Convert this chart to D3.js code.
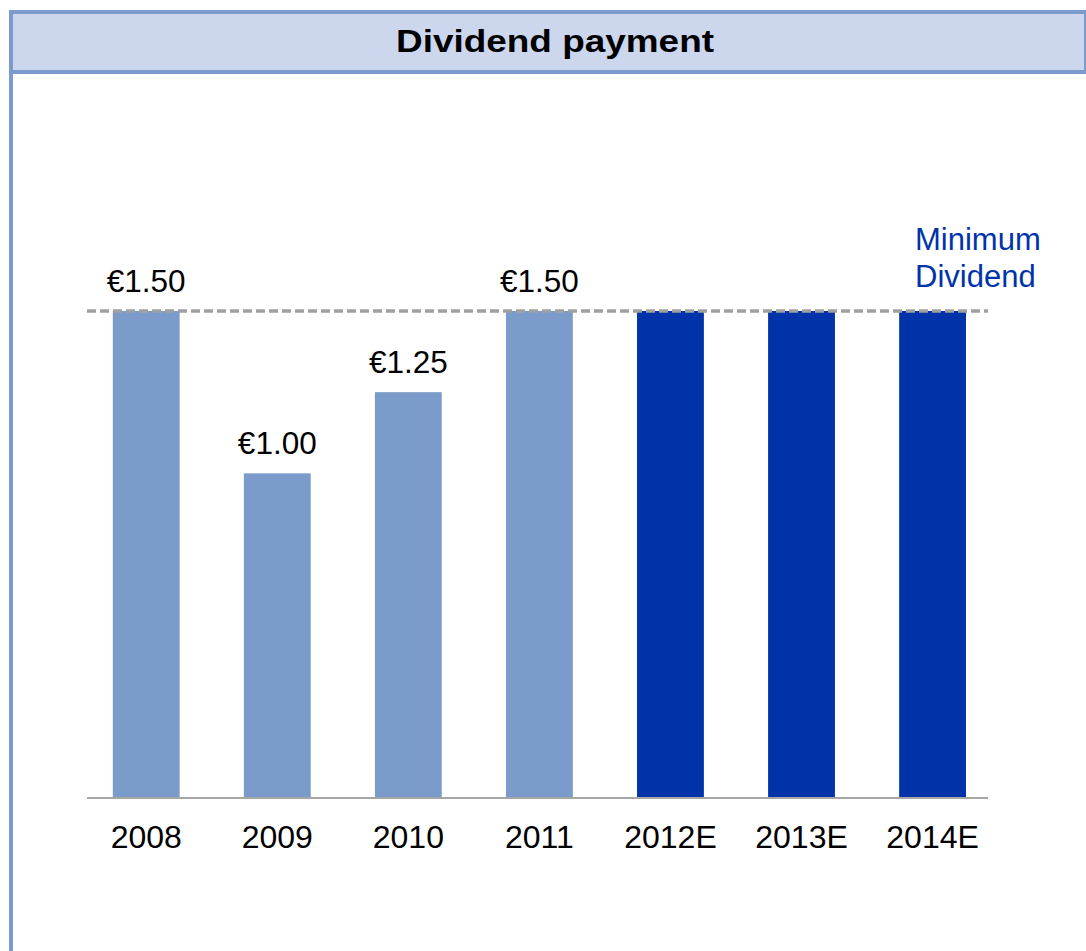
<!DOCTYPE html>
<html>
<head>
<meta charset="utf-8">
<script src="https://cdn.jsdelivr.net/npm/d3@7"></script>
<style>
  html, body { margin: 0; padding: 0; background: #fff; }
  svg { display: block; font-family: "Liberation Sans", Arial, sans-serif; }
</style>
</head>
<body>
<svg id="chart" width="1086" height="951"></svg>
<script>
// Dividend per share by year (E = estimate)
const years = ["2008", "2009", "2010", "2011", "2012E", "2013E", "2014E"];
const dividends = [1.50, 1.00, 1.25, 1.50, 1.50, 1.50, 1.50];
const estimated = [false, false, false, false, true, true, true];
const valueLabels = ["€1.50", "€1.00", "€1.25", "€1.50", "", "", ""];
const minimumDividend = 1.50;
const titleText = "Dividend payment";
const minimumLabel = ["Minimum", "Dividend"];

const W = 1086, H = 951;
const svg = d3.select("#chart");

const frameColor = "#7b9bcc";
const headerFill = "#ccd7ee";
const paidColor = "#7b9ccb";
const estColor = "#0033aa";
const gridGray = "#a6a6a6";

// Frame: header band + left rule
svg.append("rect").attr("x", 11).attr("y", 12).attr("width", W - 11).attr("height", 60)
  .attr("fill", headerFill).attr("stroke", frameColor).attr("stroke-width", 4);
svg.append("line").attr("x1", 11).attr("x2", 11).attr("y1", 10).attr("y2", H)
  .attr("stroke", frameColor).attr("stroke-width", 4);

svg.append("text").attr("x", 555).attr("y", 52)
  .attr("text-anchor", "middle").attr("font-size", 31).attr("font-weight", "bold")
  .attr("textLength", 318).attr("lengthAdjust", "spacingAndGlyphs")
  .attr("fill", "#000").text(titleText);

// Scales
const x = d3.scaleBand().domain(years).range([80.7, 998.1])
  .paddingInner(0.49).paddingOuter(0.245);
const y = d3.scaleLinear().domain([0, 1.5]).range([798, 311]);
const plotLeft = 87, plotRight = 988;

// Bars
svg.append("g").selectAll("rect").data(years).join("rect")
  .attr("x", d => x(d))
  .attr("width", x.bandwidth())
  .attr("y", (d, i) => y(dividends[i]))
  .attr("height", (d, i) => y(0) - y(dividends[i]))
  .attr("fill", (d, i) => estimated[i] ? estColor : paidColor);

// Baseline axis
const xAxis = d3.axisBottom(x).tickSize(0).tickPadding(27);
const gx = svg.append("g").attr("transform", `translate(0,${y(0)})`).call(xAxis);
gx.select(".domain").remove();
gx.selectAll("text").attr("font-size", 32).attr("fill", "#000")
  .attr("font-family", '"Liberation Sans", Arial, sans-serif');
svg.append("line").attr("x1", plotLeft).attr("x2", plotRight)
  .attr("y1", y(0)).attr("y2", y(0))
  .attr("stroke", gridGray).attr("stroke-width", 2);

// Minimum dividend reference line
svg.append("line").attr("x1", plotLeft).attr("x2", plotRight)
  .attr("y1", y(minimumDividend)).attr("y2", y(minimumDividend))
  .attr("stroke", "#a0a0a0").attr("stroke-width", 3.5)
  .attr("stroke-dasharray", "9,4");

// Value labels
svg.append("g").selectAll("text").data(years).join("text")
  .attr("x", d => x(d) + x.bandwidth() / 2)
  .attr("y", (d, i) => y(dividends[i]) - 19)
  .attr("text-anchor", "middle").attr("font-size", 31.5).attr("fill", "#000")
  .text((d, i) => valueLabels[i]);

// Minimum dividend caption
const cap = svg.append("text").attr("x", 915).attr("y", 250)
  .attr("font-size", 31).attr("fill", estColor);
cap.selectAll("tspan").data(minimumLabel).join("tspan")
  .attr("x", 915).attr("dy", (d, i) => i === 0 ? 0 : 37).text(d => d);
</script>
</body>
</html>
